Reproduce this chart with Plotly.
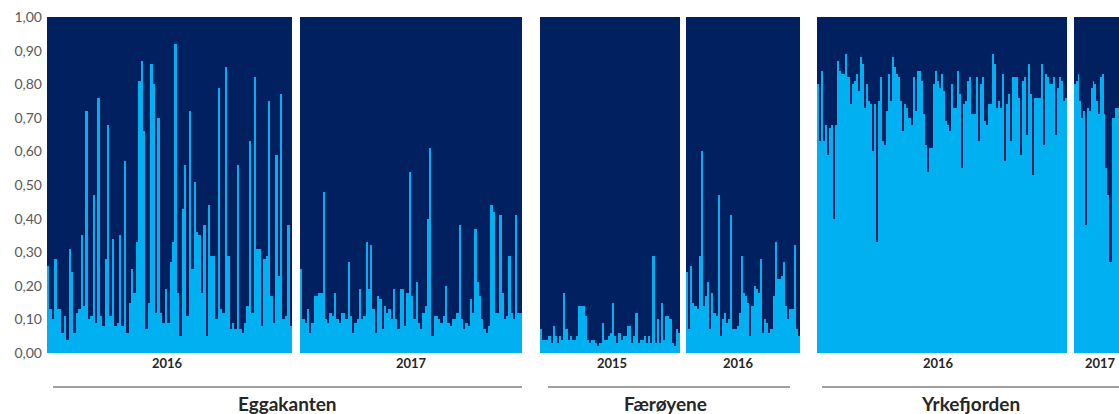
import plotly.graph_objects as go

# ---- data (proportion of cluster 1 = light blue, per individual) ----
egg_2016 = [0.26,0.13,0.10,0.28,0.13,0.13,0.06,0.11,0.04,0.31,0.24,0.06,0.12,0.13,0.35,0.14,0.72,0.10,0.11,0.47,
            0.09,0.76,0.11,0.08,0.28,0.68,0.11,0.34,0.08,0.09,0.35,0.08,0.57,0.06,0.15,0.25,0.18,0.33,0.81,0.87,
            0.66,0.07,0.15,0.86,0.80,0.12,0.70,0.12,0.09,0.19,0.09,0.27,0.33,0.92,0.18,0.05,0.43,0.56,0.11,0.72,
            0.25,0.51,0.36,0.35,0.18,0.38,0.05,0.44,0.29,0.29,0.10,0.79,0.13,0.12,0.85,0.29,0.07,0.09,0.07,0.56,
            0.07,0.06,0.09,0.14,0.63,0.12,0.82,0.31,0.31,0.08,0.28,0.29,0.75,0.17,0.09,0.59,0.23,0.77,0.10,0.11,
            0.38,0.08]
egg_2017 = [0.25,0.10,0.09,0.13,0.06,0.09,0.17,0.17,0.18,0.18,0.48,0.10,0.09,0.12,0.11,0.18,0.10,0.09,0.12,0.12,
            0.10,0.27,0.11,0.06,0.09,0.10,0.19,0.10,0.11,0.33,0.19,0.32,0.13,0.06,0.17,0.16,0.07,0.14,0.12,0.13,
            0.10,0.19,0.10,0.07,0.19,0.19,0.08,0.18,0.54,0.17,0.10,0.21,0.09,0.07,0.12,0.14,0.40,0.61,0.05,0.11,
            0.11,0.10,0.09,0.11,0.20,0.09,0.08,0.10,0.10,0.12,0.38,0.10,0.07,0.09,0.08,0.16,0.12,0.37,0.21,0.17,
            0.10,0.07,0.06,0.08,0.44,0.42,0.12,0.12,0.41,0.18,0.10,0.11,0.29,0.12,0.10,0.41,0.12,0.12]
far_2015 = [0.07,0.04,0.04,0.04,0.05,0.03,0.08,0.05,0.03,0.05,0.04,0.18,0.07,0.04,0.05,0.04,0.04,0.05,0.14,0.14,
            0.14,0.11,0.04,0.03,0.04,0.04,0.03,0.02,0.03,0.09,0.04,0.04,0.05,0.06,0.15,0.05,0.03,0.06,0.04,0.05,
            0.05,0.08,0.08,0.03,0.05,0.12,0.03,0.04,0.04,0.05,0.03,0.05,0.03,0.29,0.03,0.10,0.03,0.15,0.04,0.11,
            0.11,0.10,0.03,0.02,0.07,0.06]
far_2016 = [0.24,0.07,0.26,0.15,0.14,0.13,0.29,0.60,0.14,0.17,0.21,0.07,0.18,0.12,0.11,0.47,0.05,0.10,0.12,0.09,
            0.10,0.41,0.07,0.07,0.08,0.12,0.29,0.18,0.17,0.15,0.05,0.14,0.20,0.19,0.18,0.28,0.06,0.10,0.09,0.06,
            0.07,0.17,0.33,0.22,0.22,0.23,0.27,0.14,0.10,0.13,0.13,0.32,0.07,0.05]
yrk_2016 = [0.80,0.63,0.84,0.63,0.68,0.59,0.67,0.68,0.40,0.68,0.87,0.84,0.83,0.83,0.89,0.82,0.74,0.80,0.81,0.83,
            0.78,0.88,0.86,0.73,0.80,0.75,0.74,0.60,0.74,0.33,0.75,0.82,0.63,0.62,0.72,0.83,0.75,0.88,0.85,0.83,
            0.82,0.75,0.66,0.74,0.73,0.70,0.68,0.82,0.72,0.84,0.84,0.81,0.71,0.62,0.54,0.61,0.61,0.80,0.84,0.81,
            0.79,0.83,0.78,0.69,0.68,0.66,0.80,0.73,0.73,0.84,0.77,0.55,0.74,0.75,0.81,0.82,0.71,0.71,0.82,0.63,
            0.80,0.82,0.69,0.68,0.74,0.74,0.89,0.86,0.73,0.75,0.73,0.83,0.57,0.74,0.77,0.63,0.82,0.82,0.82,0.76,
            0.59,0.81,0.82,0.65,0.86,0.77,0.53,0.76,0.76,0.76,0.86,0.62,0.83,0.82,0.80,0.80,0.82,0.65,0.79,0.82,
            0.81,0.75,0.76]
yrk_2017 = [0.80,0.81,0.83,0.75,0.70,0.72,0.38,0.73,0.72,0.79,0.81,0.80,0.75,0.71,0.82,0.83,0.71,0.55,0.47,0.27,
            0.70,0.70,0.73,0.73]

panel_years = ["2016", "2017", "2015", "2016", "2016", "2017"]
panel_data = [egg_2016, egg_2017, far_2015, far_2016, yrk_2016, yrk_2017]
groups = ["Eggakanten", "Færøyene", "Yrkefjorden"]

y_tickvals = [0, 0.1, 0.2, 0.3, 0.4, 0.5, 0.6, 0.7, 0.8, 0.9, 1.0]
y_ticktext = ["0,00", "0,10", "0,20", "0,30", "0,40", "0,50", "0,60", "0,70", "0,80", "0,90", "1,00"]

# ---- layout geometry (page pixels) ----
W, H = 1119, 414
ML, MT, MB = 47, 17, 414 - 353
PW = W - ML
PH = H - MT - MB
panel_px = [(47, 292), (300, 522), (540, 680), (686, 800), (817, 1067), (1074, 1119)]
label_cx = [167, 411, 612, 738, 938, 1100]
group_lines = [(53, 522), (548, 790), (822, 1119)]
group_cx = [287, 665, 970]

LIGHT = "#00B0F0"
DARK = "#002060"
FONT = "Lato"

def px2x(p):
    return (p - ML) / PW

def py2y(p):
    return (353 - p) / PH

fig = go.Figure()
layout = {}
for i, (vals, (a, b)) in enumerate(zip(panel_data, panel_px)):
    ax = "x" if i == 0 else f"x{i+1}"
    axkey = "xaxis" if i == 0 else f"xaxis{i+1}"
    idx = list(range(len(vals)))
    fig.add_trace(go.Bar(x=idx, y=vals, marker=dict(color=LIGHT, line=dict(width=0)),
                         xaxis=ax, yaxis="y", showlegend=False, hoverinfo="skip"))
    fig.add_trace(go.Bar(x=idx, y=[round(1 - v, 4) for v in vals], marker=dict(color=DARK, line=dict(width=0)),
                         xaxis=ax, yaxis="y", showlegend=False, hoverinfo="skip"))
    layout[axkey] = dict(domain=[max(0.0, px2x(a)), min(1.0, px2x(b))], anchor="y",
                         range=[-0.5, len(vals) - 0.5], showticklabels=False,
                         showgrid=False, zeroline=False, showline=False, ticks="")

fig.update_layout(**layout)
fig.update_layout(
    width=W, height=H,
    margin=dict(l=ML, r=0, t=MT, b=MB),
    barmode="stack", bargap=0,
    plot_bgcolor="white", paper_bgcolor="white",
    yaxis=dict(range=[0, 1], tickvals=y_tickvals, ticktext=y_ticktext,
               showgrid=False, zeroline=False, showline=False, ticks="",
               ticklabeloverflow="allow", ticklabelstandoff=4,
               tickfont=dict(family=FONT, size=14, color="#595959")),
    font=dict(family=FONT),
)

annotations = []
for cx, yr in zip(label_cx, panel_years):
    annotations.append(dict(x=px2x(cx), y=py2y(363), xref="paper", yref="paper",
                            text=f"<b>{yr}</b>", showarrow=False,
                            font=dict(family=FONT, size=13, color="#262626"),
                            xanchor="center", yanchor="middle"))
for cx, g in zip(group_cx, groups):
    annotations.append(dict(x=px2x(cx), y=py2y(404), xref="paper", yref="paper",
                            text=f"<b>{g}</b>", showarrow=False,
                            font=dict(family=FONT, size=19, color="#262626"),
                            xanchor="center", yanchor="middle"))
shapes = []
for a, b in group_lines:
    shapes.append(dict(type="line", xref="paper", yref="paper",
                       x0=px2x(a), x1=min(1.0, px2x(b)), y0=py2y(387), y1=py2y(387),
                       line=dict(color="#404040", width=1.2)))
fig.update_layout(annotations=annotations, shapes=shapes)

fig.write_html("out.html", config={"displayModeBar": False},
               post_script="document.body.style.margin='0';document.body.style.overflow='hidden';")
